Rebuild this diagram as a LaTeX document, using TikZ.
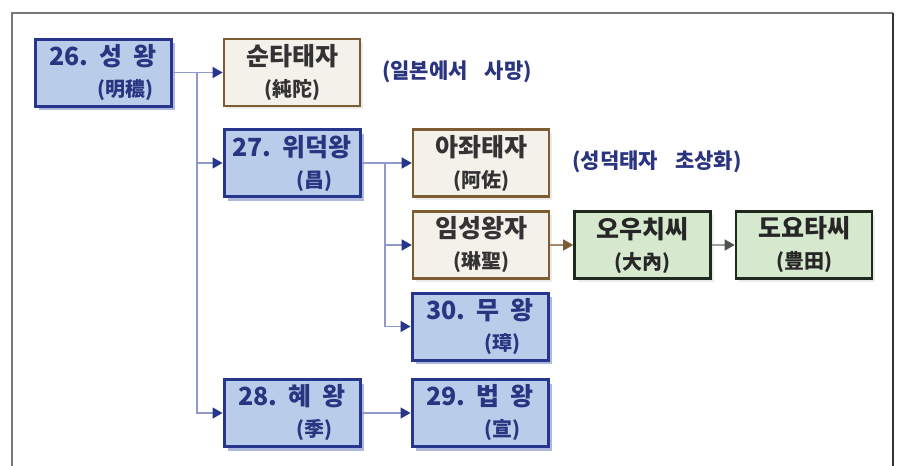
\documentclass[tikz,border=0pt]{standalone}
\usepackage{fontspec}
\setmainfont{Noto Sans CJK KR}
\usetikzlibrary{arrows.meta}
\definecolor{navy}{HTML}{27358C}
\definecolor{navytext}{HTML}{2A3480}
\definecolor{bluefill}{HTML}{B9CDEA}
\definecolor{blueshadow}{HTML}{AEB8DA}
\definecolor{brownline}{HTML}{7B5C33}
\definecolor{brownfill}{HTML}{F4F0EA}
\definecolor{greenline}{HTML}{1F2A1F}
\definecolor{greenfill}{HTML}{D6E9CF}
\definecolor{connline}{HTML}{9199CB}
\definecolor{framegrey}{HTML}{777777}
\tikzset{
  x=1pt, y=-1pt,
  boxbase/.style={rectangle, minimum width=136pt, minimum height=67pt, inner sep=0pt, align=center, font=\bfseries\fontsize{25}{31}\selectfont},
  kingbox/.style={boxbase, draw=navy, line width=3pt, fill=bluefill, text=navytext,
     preaction={draw=none, fill=blueshadow, transform canvas={xshift=4pt, yshift=-4pt}}},
  princebox/.style={boxbase, draw=brownline, line width=2.6pt, fill=brownfill, text=black!80,
     preaction={draw=none, fill=black!8, transform canvas={xshift=3pt, yshift=-3pt}}},
  clanbox/.style={boxbase, draw=greenline, line width=2.6pt, fill=greenfill, text=black!85,
     preaction={draw=none, fill=black!8, transform canvas={xshift=3pt, yshift=-3pt}}},
  conn/.style={draw=connline, line width=1.4pt},
  arr/.style={-{Triangle[length=10pt, width=11pt, color=navy]}},
  brownarr/.style={draw=brownline!70, line width=1.4pt, -{Triangle[length=10pt, width=11pt, color=brownline]}},
  greenarr/.style={draw=greenline!45, line width=1.4pt, -{Triangle[length=10pt, width=11pt, color=greenline!80]}},
  note/.style={font=\bfseries\fontsize{21}{24}\selectfont, text=navytext, inner sep=0pt},
}
\newcommand{\subl}[1]{{\fontsize{20}{20}\selectfont #1}}
\newcommand{\ksub}[1]{{\hspace*{44pt}\fontsize{20}{20}\selectfont #1}}
\newcommand{\gap}{\hspace{0.45em}}
\begin{document}
\begin{tikzpicture}
\useasboundingbox (0,0) rectangle (924,466);
\fill[white] (0,0) rectangle (924,466);
% frame
\draw[framegrey, line width=1.5pt] (12,466) -- (12,13) -- (893,13);
\draw[black!80, line width=1.8pt] (893,13) -- (893,466);

% boxes
\node[kingbox] (b26) at (103,72.5) {26.\gap 성\gap 왕\\\ksub{(明穠)}};
\node[princebox] (sun) at (292,72.5) {순타태자\\\subl{(純陀)}};
\node[kingbox] (b27) at (292,163) {27.\gap 위덕왕\\\ksub{(昌)}};
\node[princebox] (aja) at (481,163) {아좌태자\\\subl{(阿佐)}};
\node[princebox] (im) at (481,245) {임성왕자\\\subl{(琳聖)}};
\node[clanbox] (ouchi) at (642.5,245) {오우치씨\\\subl{(大內)}};
\node[clanbox] (toyo) at (804,245) {도요타씨\\\subl{(豊田)}};
\node[kingbox] (b30) at (480,326.5) {30.\gap 무\gap 왕\\\ksub{(璋)}};
\node[kingbox] (b28) at (292,413) {28.\gap 혜\gap 왕\\\ksub{(季)}};
\node[kingbox] (b29) at (480,413) {29.\gap 법\gap 왕\\\ksub{(宣)}};

% notes
\node[note] (n1) at (457,72) {(일본에서\hspace{0.8em}사망)};
\node[note] (n2) at (657,162) {(성덕태자\hspace{0.8em}초상화)};

% connectors
\coordinate (j1) at (197,72.5);
\coordinate (j2) at (385,163);
\draw[conn] (b26.east) -- (j1);
\draw[conn,arr] (j1) -- (sun.west);
\draw[conn,arr] (j1 |- b27.west) -- (b27.west);
\draw[conn,arr] (j1) |- (b28.west);
\draw[conn] (b27.east) -- (j2);
\draw[conn,arr] (j2) -- (aja.west);
\draw[conn,arr] (j2 |- im.west) -- (im.west);
\draw[conn,arr] (j2) |- (b30.west);
\draw[conn,arr] (b28.east) -- (b29.west);
\draw[brownarr] (im.east) -- (ouchi.west);
\draw[greenarr] (ouchi.east) -- (toyo.west);
\end{tikzpicture}
\end{document}
